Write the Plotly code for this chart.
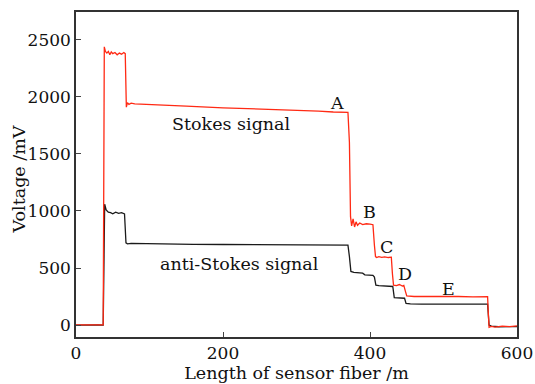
import plotly.graph_objects as go

# Stokes signal (red)
stokes_x = [0, 10, 20, 30, 37, 38.5, 40, 42, 44, 46, 48, 50, 53, 56, 59, 62, 65, 67,
            68.5, 70, 72, 75, 80, 90, 100, 120, 150, 200, 250, 300, 330, 350, 370,
            372, 373.5, 375, 377, 379, 381, 383, 386, 390, 395, 400, 404,
            406, 407.5, 409, 412, 416, 420, 425, 429,
            430.5, 432, 436, 440, 444, 446,
            448, 450, 460, 480, 500, 520, 540, 555, 560,
            561, 562, 565, 570, 580, 590, 600]
stokes_y = [2, 0, 3, 1, 2, 2440, 2400, 2385, 2400, 2370, 2395, 2380, 2390, 2370, 2385, 2375, 2390, 2380,
            1910, 1950, 1935, 1945, 1940, 1938, 1935, 1928, 1920, 1905, 1895, 1885, 1875, 1868, 1865,
            1600, 950, 870, 930, 860, 905, 875, 895, 880, 888, 885, 880,
            700, 600, 592, 600, 594, 598, 592, 595,
            450, 350, 345, 355, 342, 348,
            300, 255, 250, 252, 248, 250, 246, 250, 248,
            100, -20, -12, -18, -10, -14, -8]

# anti-Stokes signal (black)
anti_x = [0, 10, 20, 30, 37, 39, 41, 44, 47, 50, 54, 58, 62, 66,
          68, 70, 75, 90, 120, 160, 200, 250, 300, 340, 370,
          372, 374, 378, 384, 390, 393, 398, 404, 406,
          408, 412, 420, 428, 431,
          433, 438, 443, 447,
          449, 455, 470, 490, 510, 530, 550, 560,
          562, 565, 575, 590, 600]
anti_y = [0, 2, 0, 1, 0, 1060, 1010, 990, 985, 975, 990, 980, 985, 975,
          720, 712, 716, 714, 710, 708, 706, 704, 702, 700, 700,
          600, 470, 462, 458, 455, 440, 438, 435, 420,
          350, 345, 342, 340, 338,
          240, 236, 238, 235,
          190, 186, 184, 185, 182, 185, 183, 184,
          0, -10, -15, -12, -14]

x_ticks = [0, 200, 400, 600]
y_ticks = [0, 500, 1000, 1500, 2000, 2500]

labels = ["A", "B", "C", "D", "E", "Stokes signal", "anti-Stokes signal"]
label_x = [355, 399, 422, 448, 507, 212, 222]
label_y = [1950, 990, 685, 445, 316, 1763, 535]

FONT = "DejaVu Serif"
TXT = "#111111"

fig = go.Figure()
fig.add_trace(go.Scatter(x=anti_x, y=anti_y, mode="lines",
                         line=dict(color="#1a1a1a", width=1.3), showlegend=False))
fig.add_trace(go.Scatter(x=stokes_x, y=stokes_y, mode="lines",
                         line=dict(color="#ff2a14", width=1.3), showlegend=False))

for t, x, y in zip(labels, label_x, label_y):
    fig.add_annotation(x=x, y=y, text=t, showarrow=False,
                       font=dict(family=FONT, size=17.5, color=TXT))

# y-axis title placed as a rotated annotation
fig.add_annotation(xref="paper", yref="paper", x=-0.129, y=0.485,
                   xanchor="center", yanchor="middle",
                   text="Voltage /mV", textangle=-90, showarrow=False,
                   font=dict(family=FONT, size=17.5, color=TXT))

fig.update_layout(
    width=535, height=384,
    margin=dict(l=76, r=18, t=12, b=47),
    paper_bgcolor="white", plot_bgcolor="white",
    font=dict(family=FONT, size=17, color=TXT),
    xaxis=dict(range=[0, 600], tickvals=x_ticks, ticks="inside", ticklen=5,
               showline=True, linecolor="#333", linewidth=1.5, mirror=True,
               showgrid=False, zeroline=False, automargin=False,
               tickfont=dict(family=FONT, size=17, color=TXT),
               title=dict(text="Length of sensor fiber /m", standoff=0,
                          font=dict(family=FONT, size=17.5, color=TXT))),
    yaxis=dict(range=[-105, 2745], tickvals=y_ticks, ticks="inside", ticklen=5,
               showline=True, linecolor="#333", linewidth=1.5, mirror=True,
               showgrid=False, zeroline=False, automargin=False,
               tickfont=dict(family=FONT, size=17, color=TXT)),
)

fig.write_html("out.html")
